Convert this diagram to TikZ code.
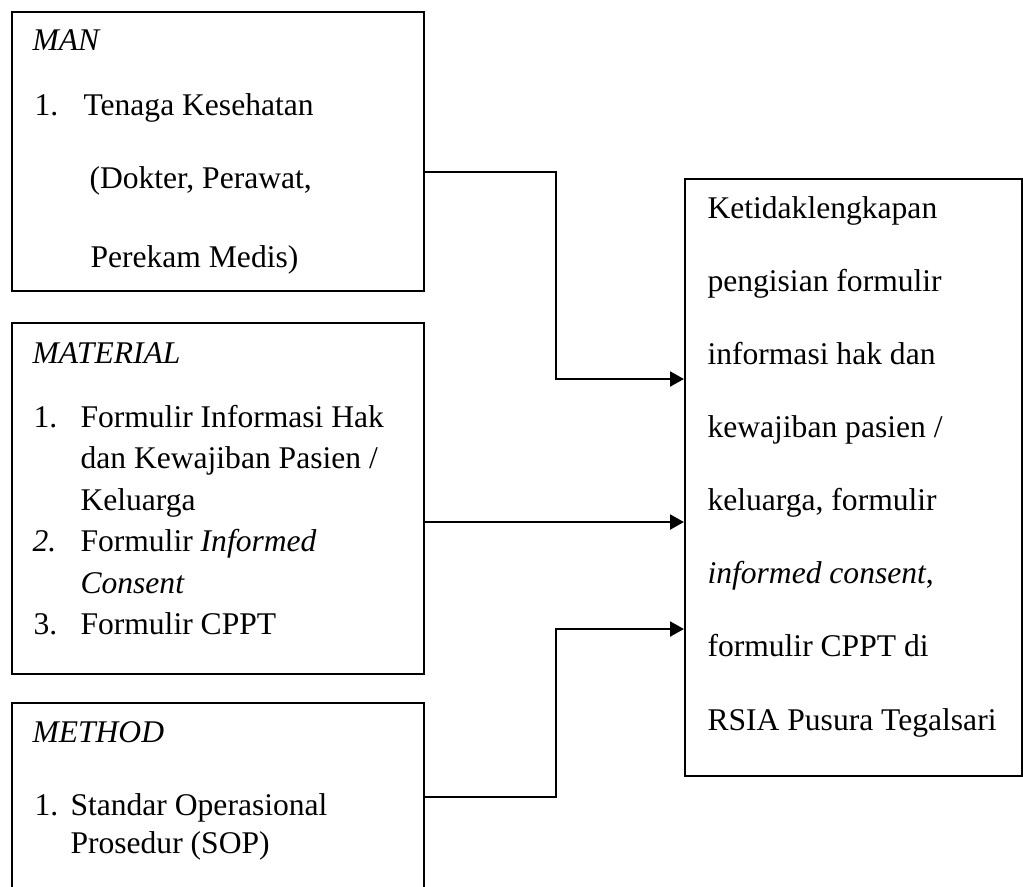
\documentclass[tikz,border=0pt]{standalone}
\usepackage{fontspec}
\setmainfont{Liberation Serif}
\usetikzlibrary{fit,arrows.meta}
\begin{document}
\begin{tikzpicture}[x=0.38pt,y=-0.38pt,
  boxshape/.style={draw=black,line width=0.8pt,inner sep=0pt,rectangle},
  txt/.style={anchor=base west,inner sep=0pt,font=\fontsize{12}{14}\selectfont},
  arr/.style={line width=0.8pt,-{Triangle[length=5.3pt,width=5.7pt]}}]
\clip (0,0) rectangle (1023,886);
\fill[white] (0,0) rectangle (1023,886);
% boxes
\node[boxshape,fit={(12,12) (424,291)}] (man) {};
\node[boxshape,fit={(12,323) (424,674)}] (mat) {};
\node[boxshape,fit={(12,703) (424,930)}] (met) {};
\node[boxshape,fit={(685,179) (1022,776)}] (res) {};
% MAN text
\node[txt] (t1) at (32,50) {\itshape MAN};
\node[txt] (t2) at (34,115) {1.};
\node[txt] (t3) at (83,115) {Tenaga Kesehatan};
\node[txt] (t4) at (89,188) {(Dokter, Perawat,};
\node[txt] (t5) at (90,267) {Perekam Medis)};
% MATERIAL text
\node[txt] (m1) at (32,363) {\itshape MATERIAL};
\node[txt] (m2) at (33,427) {1.};
\node[txt] (m3) at (80,427) {Formulir Informasi Hak};
\node[txt] (m4) at (80,468.5) {dan Kewajiban Pasien /};
\node[txt] (m5) at (80,510) {Keluarga};
\node[txt] (m6) at (32,551.5) {\itshape 2.};
\node[txt] (m7) at (80,551.5) {Formulir \textit{Informed}};
\node[txt] (m8) at (80,593) {\itshape Consent};
\node[txt] (m9) at (33,634.5) {3.};
\node[txt] (m10) at (80,634.5) {Formulir CPPT};
% METHOD text
\node[txt] (e1) at (32,742) {\itshape METHOD};
\node[txt] (e2) at (34,815) {1.};
\node[txt] (e3) at (70,815) {Standar Operasional};
\node[txt] (e4) at (70,853) {Prosedur (SOP)};
% result text
\node[txt] (r1) at (707,218) {Ketidaklengkapan};
\node[txt] (r2) at (707,291) {pengisian formulir};
\node[txt] (r3) at (707,364) {informasi hak dan};
\node[txt] (r4) at (707,437) {kewajiban pasien /};
\node[txt] (r5) at (707,510) {keluarga, formulir};
\node[txt] (r6) at (707,583) {\textit{informed consent},};
\node[txt] (r7) at (707,656) {formulir CPPT di};
\node[txt] (r8) at (707,730) {RSIA Pusura Tegalsari};
% connectors
\coordinate (c1) at (556,379);
\coordinate (c3) at (556,629);
\draw[arr] (man.east |- 0,172) -| (c1) -- (res.west |- c1);
\draw[arr] (mat.east |- 0,522) -- (res.west |- 0,522);
\draw[arr] (met.east |- 0,797) -| (c3) -- (res.west |- c3);
\end{tikzpicture}
\end{document}
